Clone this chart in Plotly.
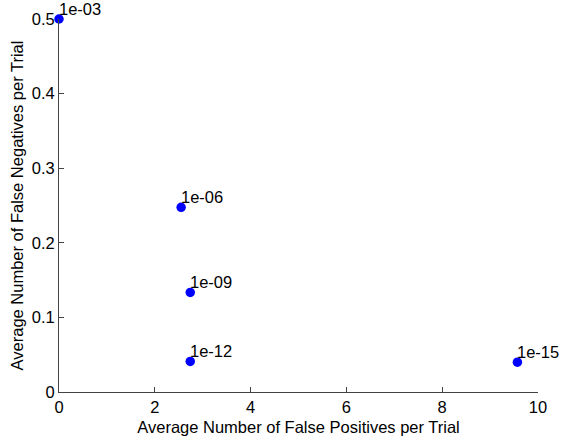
import plotly.graph_objects as go

fp = [0.0, 2.55, 2.74, 2.74, 9.57]
fn = [0.5, 0.2475, 0.1335, 0.041, 0.040]
labels = ["1e-03", "1e-06", "1e-09", "1e-12", "1e-15"]

FONT = "Liberation Sans, Arial, sans-serif"
FS = 16.5

fig = go.Figure()
fig.add_trace(go.Scatter(
    x=fp, y=fn, mode="markers",
    marker=dict(color="#0000ff", size=9.5, line=dict(width=0)),
    cliponaxis=False, showlegend=False, hoverinfo="x+y",
))

for xv, yv, t in zip(fp, fn, labels):
    fig.add_annotation(
        x=xv, y=yv, text=t, showarrow=False,
        xanchor="left", yanchor="bottom", xshift=-2, yshift=-1,
        font=dict(family=FONT, size=FS, color="black"),
    )

axis_common = dict(
    showgrid=False, zeroline=False, showline=True, linecolor="#444",
    linewidth=1, ticks="inside", ticklen=5, tickcolor="#444",
    tickfont=dict(family=FONT, size=FS, color="black"),
    mirror=False, automargin=False,
)

fig.update_xaxes(range=[0, 10], dtick=2, tick0=0,
                 title=dict(text="Average Number of False Positives per Trial",
                            font=dict(family=FONT, size=FS, color="black"), standoff=6),
                 **axis_common)
fig.update_yaxes(range=[0, 0.5], dtick=0.1, tick0=0,
                 title=dict(text="Average Number of False Negatives per Trial",
                            font=dict(family=FONT, size=FS, color="black"), standoff=3),
                 **axis_common)

fig.update_layout(
    width=564, height=441,
    margin=dict(l=59, r=26, t=19, b=49, pad=0),
    paper_bgcolor="white", plot_bgcolor="white",
    font=dict(family=FONT, size=FS, color="black"),
)

fig.write_html("out.html", config={"displayModeBar": False},
               post_script="document.body.style.margin='0';")
